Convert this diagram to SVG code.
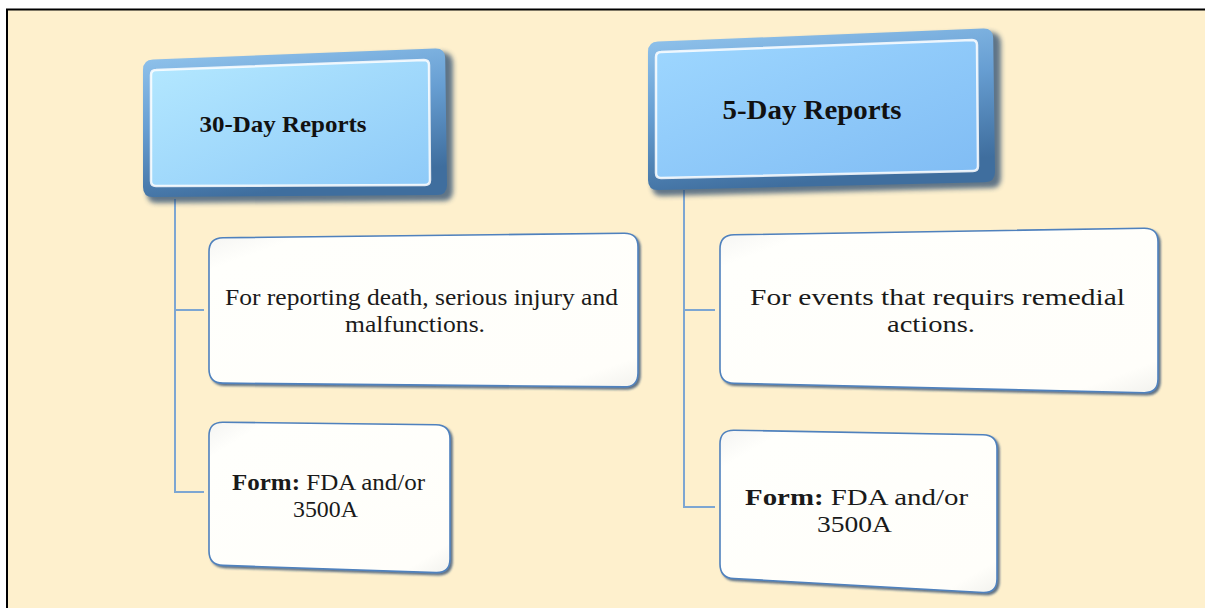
<svg xmlns="http://www.w3.org/2000/svg" width="1205" height="608" viewBox="0 0 1205 608">
  <defs>
    <linearGradient id="rim" x1="0" y1="0" x2="0.3" y2="1">
      <stop offset="0" stop-color="#94C6EE"/>
      <stop offset="0.5" stop-color="#679ED2"/>
      <stop offset="1" stop-color="#3F6E9E"/>
    </linearGradient>
    <linearGradient id="face1" x1="0" y1="0" x2="1" y2="1">
      <stop offset="0" stop-color="#B4E8FF"/>
      <stop offset="1" stop-color="#8ECAF8"/>
    </linearGradient>
    <linearGradient id="face2" x1="0" y1="0" x2="1" y2="1">
      <stop offset="0" stop-color="#9ED7FF"/>
      <stop offset="1" stop-color="#80BCF4"/>
    </linearGradient>
    <linearGradient id="wface" x1="0" y1="0" x2="1" y2="1">
      <stop offset="0" stop-color="#F4F4F2"/>
      <stop offset="0.12" stop-color="#FFFFFC"/>
      <stop offset="0.9" stop-color="#FFFEFA"/>
      <stop offset="1" stop-color="#F2F2EE"/>
    </linearGradient>
    <filter id="hshadow" x="-10%" y="-10%" width="120%" height="130%">
      <feGaussianBlur stdDeviation="2.5"/>
    </filter>
    <filter id="wshadow" x="-5%" y="-5%" width="110%" height="115%">
      <feDropShadow dx="2" dy="2" stdDeviation="1.2" flood-color="#1E3E66" flood-opacity="0.7"/>
    </filter>
  </defs>
  <style>
    .conn { fill: none; stroke: #7DA6D2; stroke-width: 2; }
    .rim { fill: url(#rim); }
    .shade { fill: #2B4B70; opacity: 0.75; }
    .hl { stroke: #FFFFFF; stroke-width: 2.5; stroke-opacity: 0.85; }
    .wbox { fill: url(#wface); stroke: #4F81BD; stroke-width: 1.6; }
    .head { font-family: "Liberation Serif", "Times New Roman", serif; font-weight: bold; fill: #111111; text-anchor: middle; }
    .body { font-family: "Liberation Serif", "Times New Roman", serif; fill: #1A1A1A; text-anchor: middle; }
  </style>

  <!-- background and frame -->
  <rect x="0" y="0" width="1205" height="608" fill="#FFFFFF"/>
  <rect x="7" y="9.5" width="1198" height="599" fill="#FEF0CD"/>
  <path d="M7,608 L7,9.5 L1205,9.5" fill="none" stroke="#000000" stroke-width="2"/>

  <g id="connectors">
    <path class="conn" d="M175,199 L175,492 L204,492"/>
    <path class="conn" d="M175,310 L204,310"/>
    <path class="conn" d="M684,190 L684,507 L715,507"/>
    <path class="conn" d="M684,310 L715,310"/>
  </g>

  <g id="node-30day">
    <path class="shade" filter="url(#hshadow)" d="M157,64 L441,52 Q453,52 453,64 L453,191 Q453,201 443,201 L157,203 Q147,203 147,193 L147,74 Q147,64 157,64 Z"/>
    <path class="rim" d="M153,59.6 L435,48.4 Q445,48 445.2,58 L447,185 Q447,195 437,195.1 L153,197 Q143,197 143,187 L143,70 Q143,60 153,59.6 Z"/>
    <path fill="url(#face1)" class="hl" d="M156,70 L424,60 Q429,60 429,65 L430,180 Q430,185 425,185 L156,186 Q151,186 151,181 L151,75 Q151,70 156,70 Z"/>
    <text class="head" x="283" y="132" font-size="24" textLength="167" lengthAdjust="spacingAndGlyphs">30-Day Reports</text>
  </g>

  <g id="node-5day">
    <path class="shade" filter="url(#hshadow)" d="M662,46 L989,32 Q1001,32 1001,44 L1001,178 Q1001,188 991,188 L662,196 Q652,196 652,186 L652,56 Q652,46 662,46 Z"/>
    <path class="rim" d="M658,41.6 L983,28.4 Q993,28 993.2,38 L995,172 Q995,182 985,182.3 L658,190 Q648,190 648,180 L648,52 Q648,42 658,41.6 Z"/>
    <path fill="url(#face2)" class="hl" d="M661,52 L972,40 Q977,40 977,45 L978,166 Q978,171 973,171 L661,178 Q656,178 656,173 L656,57 Q656,52 661,52 Z"/>
    <text class="head" x="812" y="119" font-size="27" textLength="179" lengthAdjust="spacingAndGlyphs">5-Day Reports</text>
  </g>

  <g id="node-30day-desc">
    <path class="wbox" filter="url(#wshadow)" d="M223,237.8 L624,233.2 Q638,233 638,247 L638,373 Q638,387 624,386.9 L223,383.1 Q209,383 209,369 L209,252 Q209,238 223,237.8 Z"/>
    <text class="body" x="421.5" y="305" font-size="23" textLength="393" lengthAdjust="spacingAndGlyphs">For reporting death, serious injury and</text>
    <text class="body" x="415" y="332" font-size="23" textLength="140" lengthAdjust="spacingAndGlyphs">malfunctions.</text>
  </g>

  <g id="node-30day-form">
    <path class="wbox" filter="url(#wshadow)" d="M223,422.2 L436,424.8 Q450,425 450,439 L450,559 Q450,573 436,572.6 L223,565.4 Q209,565 209,551 L209,436 Q209,422 223,422.2 Z"/>
    <text class="body" x="328.5" y="490" font-size="23" textLength="193" lengthAdjust="spacingAndGlyphs"><tspan font-weight="bold">Form:</tspan> FDA and/or</text>
    <text class="body" x="325.5" y="517" font-size="23" textLength="65" lengthAdjust="spacingAndGlyphs">3500A</text>
  </g>

  <g id="node-5day-desc">
    <path class="wbox" filter="url(#wshadow)" d="M734,234.8 L1144,228.2 Q1158,228 1158,242 L1158,379 Q1158,393 1144,392.7 L734,383.3 Q720,383 720,369 L720,249 Q720,235 734,234.8 Z"/>
    <text class="body" x="937.5" y="305" font-size="24" textLength="375" lengthAdjust="spacingAndGlyphs">For events that requirs remedial</text>
    <text class="body" x="931" y="332" font-size="24" textLength="88" lengthAdjust="spacingAndGlyphs">actions.</text>
  </g>

  <g id="node-5day-form">
    <path class="wbox" filter="url(#wshadow)" d="M734,430.2 L983,434.8 Q997,435 997,449 L997,579 Q997,593 983,592.5 L734,578.5 Q720,578 720,564 L720,444 Q720,430 734,430.2 Z"/>
    <text class="body" x="856.5" y="505" font-size="24" textLength="223" lengthAdjust="spacingAndGlyphs"><tspan font-weight="bold">Form:</tspan> FDA and/or</text>
    <text class="body" x="854.5" y="532" font-size="24" textLength="75" lengthAdjust="spacingAndGlyphs">3500A</text>
  </g>
</svg>
